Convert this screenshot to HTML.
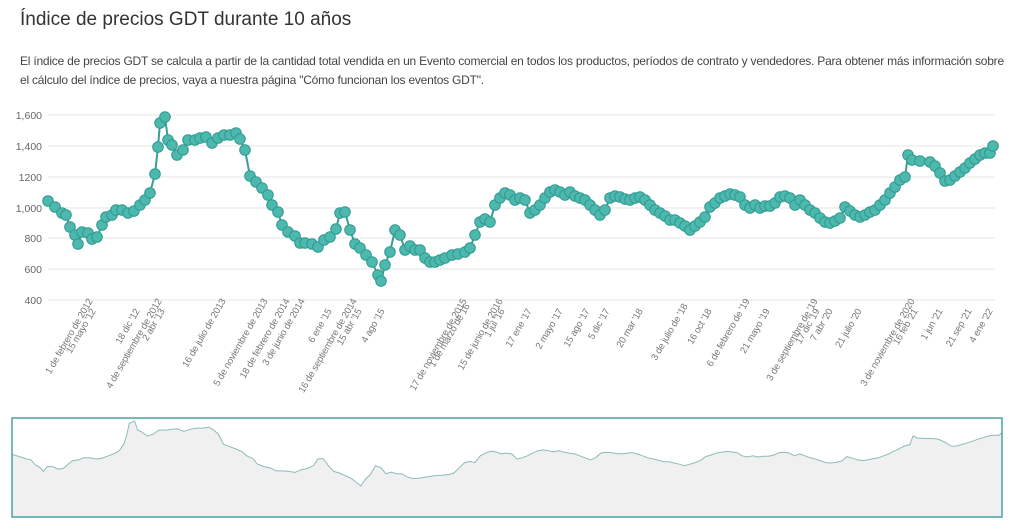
<!DOCTYPE html>
<html><head><meta charset="utf-8"><style>
body{margin:0;background:#fff;font-family:"Liberation Sans",sans-serif;}
h1{position:absolute;left:20px;top:9px;margin:0;font-size:19px;font-weight:normal;color:#333;}
p{position:absolute;left:20px;top:52px;margin:0;width:985px;font-size:12px;line-height:19px;color:#444;letter-spacing:-0.22px;}
</style></head><body>
<h1>Índice de precios GDT durante 10 años</h1>
<p>El índice de precios GDT se calcula a partir de la cantidad total vendida en un Evento comercial en todos los productos, períodos de contrato y vendedores. Para obtener más información sobre el cálculo del índice de precios, vaya a nuestra página "Cómo funcionan los eventos GDT".</p>
<svg id="s" width="1024" height="530" style="position:absolute;left:0;top:0" font-family="Liberation Sans, sans-serif"></svg>
<script>
var d=[48,201,55,207,62,213,66,215,70,227,75,235,78,244,82,232,88,233,92,239,97,237,102,225,106,217,112,215,116,210,122,210,128,213,134,211,140,205,145,200,150,193,155,174,158,147,160,123,165,117,168,140,172,145,177,155,183,150,188,140,195,140,200,138,206,137,212,143,218,138,224,135,230,135,236,133,240,139,245,150,250,176,256,182,262,188,268,195,272,205,278,212,282,225,288,232,295,236,300,243,305,243,312,244,318,247,324,240,330,237,336,229,340,213,345,212,350,230,355,244,360,248,366,255,372,262,378,275,381,281,385,265,390,252,395,230,400,235,405,250,410,246,415,250,420,250,425,258,430,262,435,262,440,260,445,258,452,255,458,254,465,252,470,248,475,235,480,222,485,219,490,222,495,205,500,198,505,193,510,195,515,200,520,198,525,200,530,213,535,210,540,205,545,198,550,192,555,190,560,192,565,195,570,192,575,196,580,198,585,200,590,205,595,210,600,215,605,210,610,198,615,196,620,197,625,199,630,200,635,198,640,197,645,200,650,205,655,210,660,213,665,216,670,220,675,220,680,223,685,226,690,230,695,226,700,222,705,217,710,207,715,203,720,198,725,196,730,194,735,195,740,197,745,205,750,208,755,205,760,208,765,206,770,206,775,203,780,197,785,196,790,198,795,205,800,200,805,205,810,210,815,213,820,218,825,222,830,223,835,221,840,218,845,207,850,211,855,215,860,217,865,215,870,212,875,210,880,205,885,200,890,193,895,187,900,180,905,177,908,155,912,160,920,161,930,162,935,166,940,173,945,181,950,180,955,176,960,172,965,168,970,163,975,159,980,155,985,153,990,153,993,146];
var h='';
var ys=[['1,600',115],['1,400',146],[1200,177],['1,000',208],[800,238],[600,269],[400,300]];
ys.forEach(function(t){h+='<line x1="48" x2="995" y1="'+t[1]+'" y2="'+t[1]+'" stroke="#e6e6e6"/>';
h+='<text x="42" y="'+(t[1]+4)+'" text-anchor="end" font-size="10.5" fill="#666">'+t[0]+'</text>';});
var pts=[];for(var i=0;i<d.length;i+=2)pts.push(d[i]+','+d[i+1]);
h+='<polyline points="'+pts.join(' ')+'" fill="none" stroke="#3a9e96" stroke-width="2"/>';
for(var i=0;i<d.length;i+=2)h+='<circle cx="'+d[i]+'" cy="'+d[i+1]+'" r="5.3" fill="#4cb8ae" stroke="#2f9a90" stroke-width="1"/>';
var L=[["1 de febrero de 2012",93,301],["15 mayo '12",96,311],["18 dic '12",140,311],["4 de septiembre de 2012",162,301],["2 abr '13",165,311],["16 de julio de 2013",226,301],["5 de noviembre de 2013",268,301],["18 de febrero de 2014",290,301],["3 de junio de 2014",305,301],["6 ene '15",332,311],["16 de septiembre de 2014",357,301],["15 abr '15",362,311],["4 ago '15",385,311],["17 de noviembre de 2015",467,301],["1 de marzo de 16",470,306],["15 de junio de 2016",503,301],["1 jul '16",505,311],["17 ene '17",532,311],["2 mayo '17",563,311],["15 ago '17",590,311],["5 dic '17",610,311],["20 mar '18",643,311],["3 de julio de '18",688,306],["16 oct '18",712,311],["6 de febrero de '19",750,301],["21 mayo '19",770,311],["3 de septiembre de '19",818,301],["17 dic '19",820,311],["7 abr '20",833,311],["21 julio '20",862,311],["3 de noviembre de 2020",915,301],["16 feb '21",918,311],["1 jun '21",943,311],["21 sep '21",972,311],["4 ene '22",993,311]];
L.forEach(function(l){h+='<text transform="translate('+l[1]+','+l[2]+') rotate(-60)" text-anchor="end" font-size="9.6" fill="#777" letter-spacing="-0.2">'+l[0]+'</text>';});
var np=[];for(var i=0;i<d.length;i+=2){np.push((12+(d[i]-48)*990/945).toFixed(1)+','+(421+(d[i+1]-117)*0.396).toFixed(1));}
h+='<rect x="12" y="418" width="990" height="99" fill="#fff"/>';
h+='<polygon points="12,517 '+np.join(' ')+' 1002,517" fill="#f0f0f0"/>';
h+='<polyline points="'+np.join(' ')+'" fill="none" stroke="#8cbcb8" stroke-width="1"/>';
h+='<rect x="12" y="418" width="990" height="99" fill="none" stroke="#4aa3a0" stroke-width="1.5"/>';
document.getElementById('s').innerHTML=h;
</script>
</body></html>
